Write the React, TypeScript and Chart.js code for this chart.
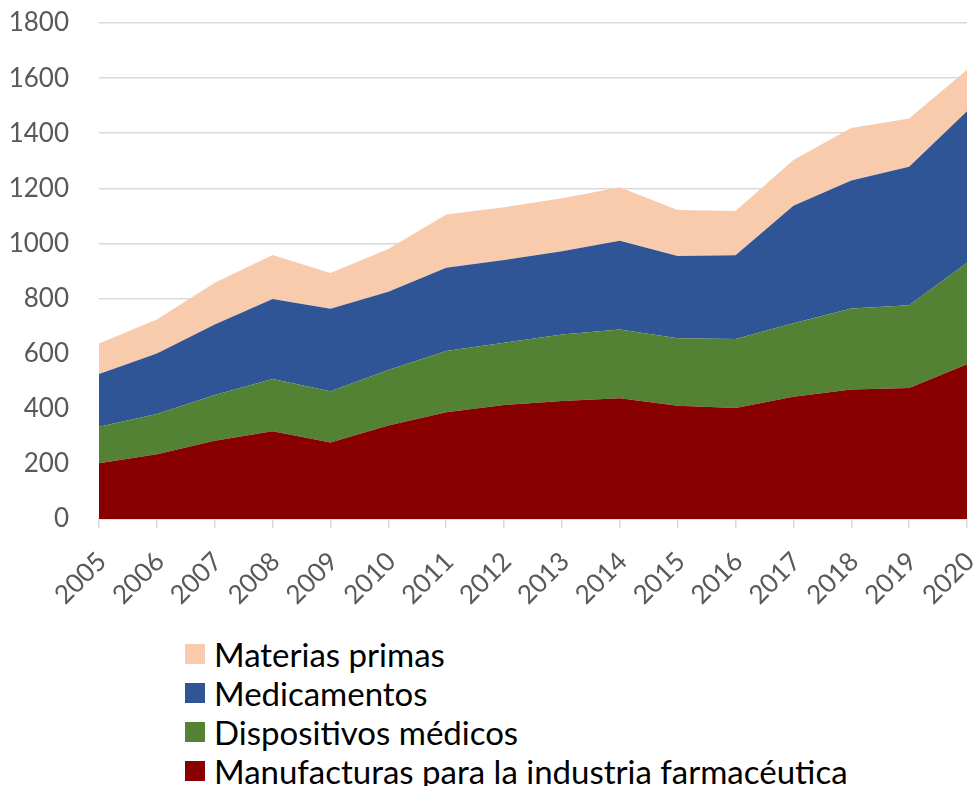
import React, { useEffect, useRef } from "react";
import { Chart, registerables } from "chart.js";

Chart.register(...registerables);

const years = ["2005","2006","2007","2008","2009","2010","2011","2012","2013","2014","2015","2016","2017","2018","2019","2020"];
const manufacturas = [202, 235, 284, 318, 278, 339, 387, 414, 428, 438, 411, 403, 444, 470, 475, 562];
const dispositivos = [133, 146, 166, 190, 186, 202, 223, 226, 242, 250, 245, 250, 266, 294, 301, 368];
const medicamentos = [191, 220, 256, 290, 299, 284, 302, 300, 302, 322, 298, 304, 427, 464, 502, 550];
const materias = [111, 123, 151, 160, 130, 155, 193, 191, 192, 194, 167, 161, 166, 191, 175, 150];

const seriesNames = ["Manufacturas para la industria farmacéutica", "Dispositivos médicos", "Medicamentos", "Materias primas"];
const seriesColors = ["#880000", "#548235", "#2F5597", "#F8CBAD"];
const seriesValues = [manufacturas, dispositivos, medicamentos, materias];

const FONT = "Lato, 'Noto Sans', sans-serif";

export default function App() {
  const ref = useRef<HTMLCanvasElement>(null);
  useEffect(() => {
    const canvas = ref.current;
    if (!canvas) return;
    const chart = new Chart(canvas, {
      type: "line",
      data: {
        labels: years,
        datasets: seriesValues.map((vals, i) => ({
          label: seriesNames[i],
          data: vals,
          backgroundColor: seriesColors[i],
          borderColor: seriesColors[i],
          borderWidth: 0,
          pointRadius: 0,
          fill: i === 0 ? "origin" : "-1",
          tension: 0,
        })),
      },
      options: {
        responsive: false,
        animation: false,
        layout: { padding: { top: 23, right: 7, left: 0, bottom: 0 } },
        plugins: { legend: { display: false }, tooltip: { enabled: false } },
        scales: {
          x: {
            grid: { drawOnChartArea: false, drawTicks: true, tickLength: 9, color: "#D9D9D9", lineWidth: 1.5 },
            border: { display: true, color: "#D9D9D9", width: 1.5 },
            ticks: {
              autoSkip: false,
              maxRotation: 45,
              minRotation: 45,
              padding: 18,
              labelOffset: 3,
              color: "#595959",
              font: { family: FONT, size: 26 },
            },
            afterFit: (s: any) => {
              s.height = 101;
              s.paddingLeft = 0;
              s.paddingRight = 0;
            },
          },
          y: {
            stacked: true,
            min: 0,
            max: 1800,
            ticks: {
              stepSize: 200,
              padding: 30,
              color: "#595959",
              font: { family: FONT, size: 26 },
              callback: (v: any) => String(v),
            },
            grid: { drawTicks: false, color: "#D9D9D9", lineWidth: 1.5 },
            border: { display: false },
            afterFit: (s: any) => {
              s.width = 99;
              s.paddingTop = 0;
              s.paddingBottom = 0;
            },
          },
        },
      },
    });
    return () => chart.destroy();
  }, []);

  const legendOrder = [3, 2, 1, 0];
  return (
    <div style={{ position: "absolute", left: 0, top: 0, width: 974, height: 786, background: "#fff" }}>
      <canvas ref={ref} width={974} height={620} style={{ display: "block" }} />
      <div style={{ position: "absolute", left: 185, top: 635 }}>
        {legendOrder.map((i) => (
          <div key={i} style={{ display: "flex", alignItems: "center", height: 38.8, fontFamily: FONT, fontSize: 33, color: "#000", whiteSpace: "nowrap" }}>
            <span style={{ display: "inline-block", width: 20, height: 20, background: seriesColors[i], marginRight: 9 }} />
            <span>{seriesNames[i]}</span>
          </div>
        ))}
      </div>
    </div>
  );
}
